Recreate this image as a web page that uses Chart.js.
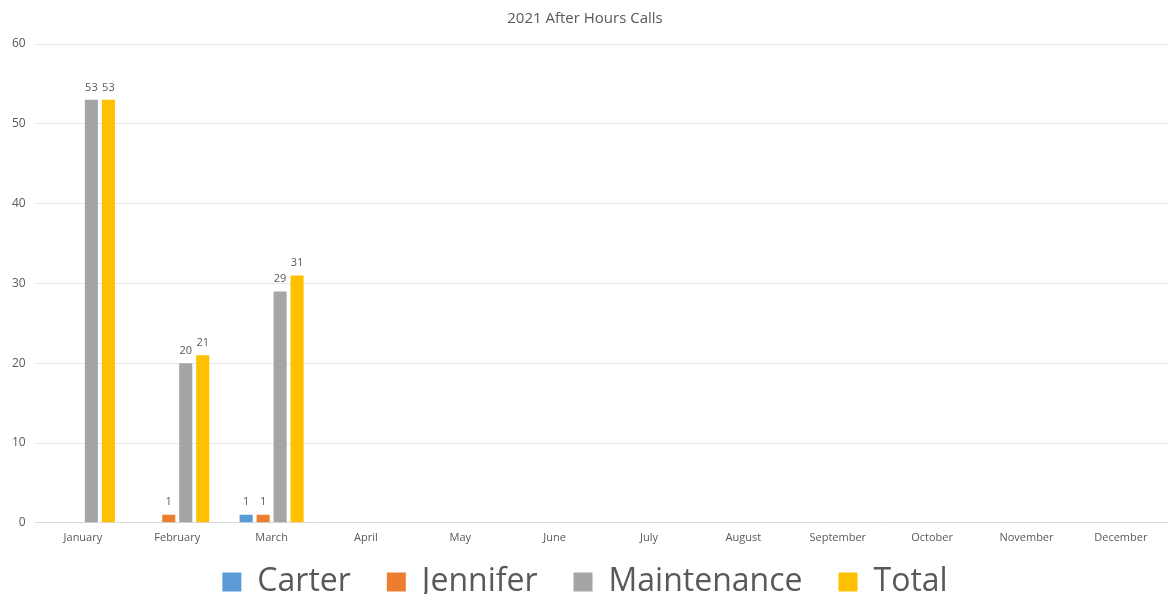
<!DOCTYPE html>
<html lang="en">
<head>
    <meta charset="UTF-8">
    <title>2021 After Hours Calls</title>
    <script src="https://cdn.jsdelivr.net/npm/chart.js"></script>
    <style>
        html, body { margin: 0; padding: 0; background: #fff; }
        #wrap { width: 1168px; height: 596px; }
    </style>
</head>
<body>
<div id="wrap"><canvas id="grafico"></canvas></div>
<script>
    // chart data
    var months = ["January", "February", "March", "April", "May", "June",
        "July", "August", "September", "October", "November", "December"];
    var carter = [null, null, 1, null, null, null, null, null, null, null, null, null];
    var jennifer = [null, 1, 1, null, null, null, null, null, null, null, null, null];
    var maintenance = [53, 20, 29, null, null, null, null, null, null, null, null, null];
    var total = [53, 21, 31, null, null, null, null, null, null, null, null, null];
    var yTicks = [0, 10, 20, 30, 40, 50, 60];

    var textColor = "#595959";
    var fontFam = "'Open Sans', 'Noto Sans', sans-serif";

    // labels above bars (no datalabels plugin offline)
    var barLabels = {
        id: "barLabels",
        afterDatasetsDraw: function (chart) {
            var ctx = chart.ctx;
            ctx.save();
            ctx.font = "11px " + fontFam;
            ctx.fillStyle = textColor;
            ctx.textAlign = "center";
            ctx.textBaseline = "bottom";
            chart.data.datasets.forEach(function (ds, i) {
                var meta = chart.getDatasetMeta(i);
                meta.data.forEach(function (bar, j) {
                    var v = ds.data[j];
                    if (v === null || v === undefined) return;
                    ctx.fillText(v, bar.x, bar.y - 7);
                });
            });
            ctx.restore();
        }
    };

    // legend padding is big (for the gaps between items) -> take some height back
    var legendSqueeze = {
        id: "legendSqueeze",
        beforeInit: function (chart) {
            var lg = chart.legend;
            var origFit = lg.fit;
            lg.fit = function () {
                origFit.call(this);
                this.height -= 28;
            };
            var origDraw = lg.draw;
            lg.draw = function () {
                this.top -= 14;
                origDraw.call(this);
                this.top += 14;
            };
        }
    };

    var ctx = document.getElementById("grafico").getContext("2d");
    var grafico = new Chart(ctx, {
        type: "bar",
        data: {
            labels: months,
            datasets: [
                { label: "Carter", data: carter, backgroundColor: "#5B9BD5" },
                { label: "Jennifer", data: jennifer, backgroundColor: "#ED7D31" },
                { label: "Maintenance", data: maintenance, backgroundColor: "#A5A5A5" },
                { label: "Total", data: total, backgroundColor: "#FFC000" }
            ]
        },
        options: {
            responsive: true,
            maintainAspectRatio: false,
            animation: false,
            layout: { padding: { left: 2, right: 0, top: 4, bottom: 2 } },
            datasets: {
                bar: { categoryPercentage: 0.72, barPercentage: 0.77 }
            },
            plugins: {
                title: {
                    display: true,
                    text: "2021 After Hours Calls",
                    color: textColor,
                    font: { family: fontFam, size: 15, weight: "normal" },
                    padding: { top: 6, bottom: 16 }
                },
                legend: {
                    position: "bottom",
                    labels: {
                        color: textColor,
                        font: { family: fontFam, size: 32 },
                        boxWidth: 19,
                        boxHeight: 19,
                        padding: 36
                    }
                },
                tooltip: { enabled: false }
            },
            scales: {
                x: {
                    grid: { display: false },
                    border: { color: "#D9D9D9" },
                    ticks: {
                        color: textColor,
                        font: { family: fontFam, size: 11 },
                        maxRotation: 0,
                        autoSkip: false,
                        padding: 0
                    }
                },
                y: {
                    min: 0,
                    max: 60,
                    afterBuildTicks: function (axis) {
                        axis.ticks = yTicks.map(function (v) { return { value: v }; });
                    },
                    grid: { color: "#E6E6E6", drawTicks: false },
                    border: { display: false },
                    ticks: {
                        color: textColor,
                        font: { family: fontFam, size: 12 },
                        padding: 10
                    }
                }
            }
        },
        plugins: [barLabels, legendSqueeze]
    });
</script>
</body>
</html>
